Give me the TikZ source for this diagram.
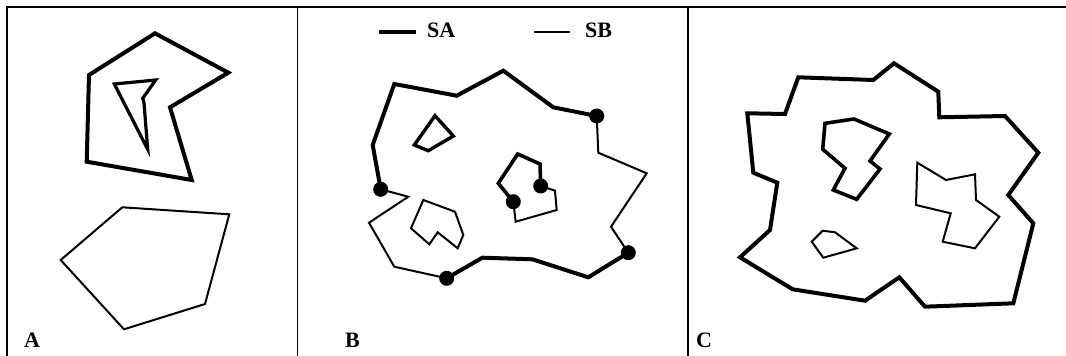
\documentclass[tikz,border=0pt]{standalone}
\usepackage{fontspec}
\setmainfont{Liberation Serif}
\begin{document}
\begin{tikzpicture}[x=1pt,y=-1pt,
  thickline/.style={line width=4pt,line join=miter,line cap=round},
  thinline/.style={line width=2pt,line join=miter,line cap=round},
  frameline/.style={line width=1.5pt},
  dotmark/.style={fill=black},
  lbl/.style={font=\fontsize{22}{22}\selectfont\bfseries,inner sep=0pt,anchor=base west}]
\useasboundingbox (0,0) rectangle (1066,356);
% frame
\draw[frameline] (7,356) -- (7,7) -- (1066,7);
\draw[frameline] (297.5,7) -- (297.5,356);
\draw[frameline] (688,7) -- (688,356);
% ---------- Panel A ----------
\draw[thickline] (155,33.3) -- (228.3,72.7) -- (170,107.3) -- (191.7,180) -- (86.7,161.7) -- (89,75) -- cycle;
\draw[thickline,line width=3.2pt] (114.3,84) -- (155.7,80) -- (142.7,98.3) -- (144,102.7) -- (147.7,149.3) -- cycle;
\draw[thinline] (122.3,207.3) -- (229.3,214.3) -- (205,304) -- (124,329.3) -- (60.7,260) -- cycle;
\node[lbl] (labA) at (24,347) {A};
% ---------- Panel B ----------
\coordinate (legA1) at (379,31.7);
\coordinate (legA2) at (416,31.7);
\coordinate (legB1) at (534,31.7);
\coordinate (legB2) at (570,31.7);
\draw[thickline,line cap=butt] (legA1) -- (legA2);
\draw[thinline,line cap=butt] (legB1) -- (legB2);
\node[lbl] (labSA) at (427,37) {SA};
\node[lbl] (labSB) at (585,37) {SB};
% outer boundary
\coordinate (d1) at (596.7,116);
\coordinate (d2) at (628.3,252.7);
\coordinate (d3) at (446.7,278.3);
\coordinate (d4) at (380.7,189.3);
\draw[thickline] (d1) -- (553.3,107.3) -- (503.3,70.7) -- (456.7,95.7) -- (394.3,84) -- (372.7,145) -- (d4);
\draw[thinline] (d4) -- (408.3,196.7) -- (369,222.7) -- (394.3,266.7) -- (d3);
\draw[thickline] (d3) -- (482.3,257.7) -- (532.3,259.3) -- (588.3,277.3) -- (d2);
\draw[thinline] (d2) -- (611,226.7) -- (646.7,173.3) -- (598.3,152.7) -- (d1);
% holes
\draw[thickline,line width=3.4pt] (435,115.7) -- (453.3,136) -- (428.3,150.7) -- (414.3,145) -- cycle;
\draw[thinline] (423.3,200) -- (455,211.7) -- (463.3,235) -- (457.7,248.3) -- (437.7,232.3) -- (429.3,244.3) -- (411,228.3) -- cycle;
\coordinate (d5) at (540.7,186);
\coordinate (d6) at (513.3,201.7);
\draw[thickline,line width=3.6pt] (d6) -- (498.3,183.3) -- (517.7,154) -- (540,164) -- (d5);
\draw[thinline] (d5) -- (555,190.7) -- (556.7,210) -- (515.7,221.7) -- (d6);
\foreach \d in {d1,d2,d3,d4,d5,d6} \fill[dotmark] (\d) circle (7.5pt);
\node[lbl] (labB) at (345,347) {B};
% ---------- Panel C ----------
\draw[thickline] (798.3,77.3) -- (873.3,80) -- (894,63.3) -- (938.3,91.7) -- (939.3,117.3) -- (1005,116) -- (1038.3,152.7) -- (1008.3,195) -- (1033.3,223.3) -- (1013.3,303.3) -- (925,306.7) -- (899.3,277.3) -- (865,300.7) -- (792.7,289.3) -- (740,257.3) -- (770,230) -- (777.3,182.7) -- (753.3,172.7) -- (747.3,113.3) -- (785,114) -- cycle;
\draw[thickline,line width=3.6pt] (825,123.3) -- (854,119) -- (889.3,134) -- (870,161) -- (880,169) -- (856.7,199.3) -- (833.3,190) -- (845,168.3) -- (822.7,149.3) -- cycle;
\draw[thinline] (917.3,162.7) -- (946,180) -- (975,174.3) -- (976,200) -- (999.3,216.7) -- (975,248.3) -- (942.7,241.7) -- (950.7,213.3) -- (916,205) -- cycle;
\draw[thinline] (822.7,230.7) -- (835,232.3) -- (856.7,248.3) -- (823.3,257.7) -- (811.7,241.7) -- cycle;
\node[lbl] (labC) at (696,347) {C};
\end{tikzpicture}
\end{document}
